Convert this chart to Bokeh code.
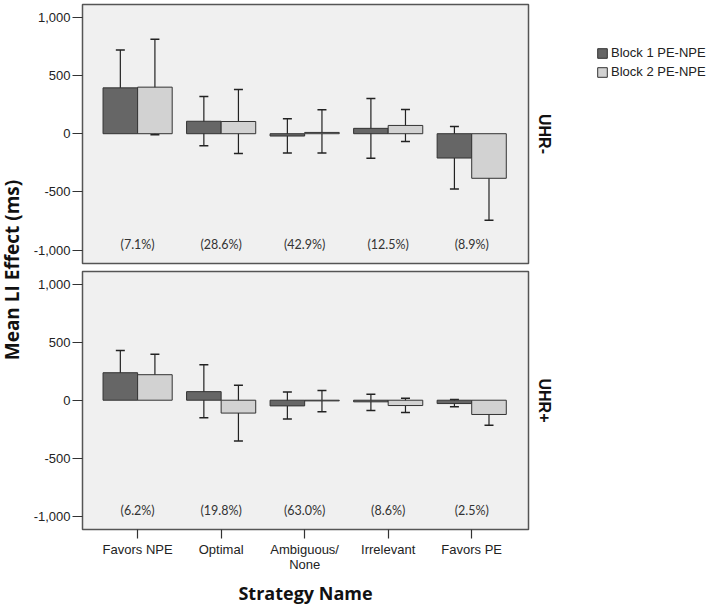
import numpy as np
from bokeh.plotting import figure
from bokeh.models import (ColumnDataSource, Range1d, FixedTicker, Whisker, TeeHead,
                          Legend, LegendItem, NumeralTickFormatter, LinearAxis, Title)
from bokeh.core.properties import value
from bokeh.layouts import row, column
from bokeh.embed import file_html
from bokeh.resources import INLINE

categories = ["Favors NPE", "Optimal", "Ambiguous/\nNone", "Irrelevant", "Favors PE"]
series = ["Block 1 PE-NPE", "Block 2 PE-NPE"]
yticks = [-1000, -500, 0, 500, 1000]

# UHR- panel
uhrm_b1 = [394, 107, -20, 46, -209]
uhrm_b1_hi = [720, 320, 129, 303, 63]
uhrm_b1_lo = [66, -103, -166, -211, -474]
uhrm_b2 = [400, 105, 11, 71, -383]
uhrm_b2_hi = [811, 380, 206, 209, -23]
uhrm_b2_lo = [-9, -171, -166, -66, -743]
uhrm_pct = ["(7.1%)", "(28.6%)", "(42.9%)", "(12.5%)", "(8.9%)"]

# UHR+ panel
uhrp_b1 = [237, 74, -49, -14, -29]
uhrp_b1_hi = [429, 306, 71, 51, 6]
uhrp_b1_lo = [49, -151, -163, -89, -57]
uhrp_b2 = [220, -111, -6, -46, -123]
uhrp_b2_hi = [397, 129, 83, 17, -17]
uhrp_b2_lo = [49, -351, -100, -106, -217]
uhrp_pct = ["(6.2%)", "(19.8%)", "(63.0%)", "(8.6%)", "(2.5%)"]

DARK = "#666666"
LIGHT = "#d2d2d2"
EDGE = "#333333"
BG = "#f0f0f0"
BW = 0.414
idx = np.arange(len(categories))


def bar_sources(b1, b1hi, b1lo, b2, b2hi, b2lo):
    s1 = ColumnDataSource(dict(x=idx - BW / 2, top=b1, hi=b1hi, lo=b1lo))
    s2 = ColumnDataSource(dict(x=idx + BW / 2, top=b2, hi=b2hi, lo=b2lo))
    return s1, s2


def make_panel(s1, s2, pct, label, top, show_x):
    p = figure(frame_width=446, frame_height=259 if top else 258,
               x_range=Range1d(-0.66, 4.68), y_range=Range1d(-1115, 1110),
               output_backend="svg", toolbar_location=None,
               min_border_left=54, min_border_right=68,
               min_border_top=4, min_border_bottom=4 if top else 0)
    p.background_fill_color = BG
    p.border_fill_color = "white"
    p.outline_line_color = "#555555"
    p.outline_line_width = 1.5
    p.grid.visible = False
    p.vbar(x="x", top="top", bottom=0, width=BW, source=s1,
           fill_color=DARK, line_color=EDGE, line_width=1)
    p.vbar(x="x", top="top", bottom=0, width=BW, source=s2,
           fill_color=LIGHT, line_color=EDGE, line_width=1)
    for s in (s1, s2):
        w = Whisker(base="x", upper="hi", lower="lo", source=s,
                    line_color="#222222", line_width=1.2,
                    upper_head=TeeHead(size=9, line_color="#222222", line_width=1.5),
                    lower_head=TeeHead(size=9, line_color="#222222", line_width=1.5))
        p.add_layout(w)
    ps = ColumnDataSource(dict(x=idx, y=[-955] * len(idx), t=pct))
    p.text(x="x", y="y", text="t", source=ps, text_align="center",
           text_baseline="middle", text_font_size="12.5px", text_font=value("Lato"),
           text_color="#333333")

    # right-side label (UHR- / UHR+)
    ax = LinearAxis(ticker=FixedTicker(ticks=[]), axis_label=label)
    ax.axis_line_color = None
    ax.major_tick_out = 0
    ax.major_tick_in = 0
    ax.minor_tick_out = 0
    ax.minor_tick_in = 0
    ax.major_label_standoff = 0
    ax.major_label_text_font_size = "1px"
    ax.axis_label_standoff = 7
    ax.axis_label_text_font = "Liberation Sans"
    ax.axis_label_text_font_style = "bold"
    ax.axis_label_text_font_size = "16px"
    ax.axis_label_text_color = "#111111"
    p.add_layout(ax, "right")

    p.yaxis[0].ticker = FixedTicker(ticks=yticks)
    yax = p.left[0]
    yax.formatter = NumeralTickFormatter(format="0,0")
    yax.major_label_text_font = "Liberation Sans"
    yax.major_label_text_font_size = "13px"
    yax.major_label_text_color = "#222222"
    yax.major_tick_out = 10
    yax.major_tick_in = 0
    yax.minor_tick_out = 0
    yax.minor_tick_in = 0
    yax.major_label_standoff = 2
    yax.axis_line_color = None
    yax.major_tick_line_color = "#333333"
    yax.major_tick_line_width = 1.2
    if show_x:
        xa = p.below[0]
        xa.ticker = FixedTicker(ticks=list(idx))
        xa.major_label_overrides = {int(i): c for i, c in zip(idx, categories)}
        xa.major_label_text_font = "Liberation Sans"
        xa.major_label_text_font_size = "13px"
        xa.major_label_text_color = "#222222"
        xa.major_label_text_line_height = 1.0
        xa.major_tick_out = 9
        xa.major_tick_in = 0
        xa.minor_tick_out = 0
        xa.minor_tick_in = 0
        xa.major_label_standoff = 3
        xa.axis_line_color = None
        xa.major_tick_line_color = "#333333"
        xa.major_tick_line_width = 1.2
        xa.axis_label = "Strategy Name"
        xa.axis_label_text_font = "Open Sans"
        xa.axis_label_text_font_style = "bold"
        xa.axis_label_text_font_size = "18px"
        xa.axis_label_text_color = "#111111"
        xa.axis_label_standoff = 6
    else:
        p.xaxis.visible = False
    return p


sm1, sm2 = bar_sources(uhrm_b1, uhrm_b1_hi, uhrm_b1_lo, uhrm_b2, uhrm_b2_hi, uhrm_b2_lo)
sp1, sp2 = bar_sources(uhrp_b1, uhrp_b1_hi, uhrp_b1_lo, uhrp_b2, uhrp_b2_hi, uhrp_b2_lo)
top = make_panel(sm1, sm2, uhrm_pct, "UHR-", True, False)
bot = make_panel(sp1, sp2, uhrp_pct, "UHR+", False, True)

# y-axis title spanning both panels
ylab = figure(width=28, height=494, x_range=Range1d(0, 1), y_range=Range1d(0, 1),
              output_backend="svg", toolbar_location=None, min_border=0)
ylab.axis.visible = False
ylab.grid.visible = False
ylab.outline_line_color = None
ylab.add_layout(Title(text="Mean LI Effect (ms)", align="center", standoff=0,
                      offset=0, vertical_align="top", padding=2,
                      text_font="Open Sans", text_font_style="bold",
                      text_font_size="19px", text_color="#111111"), "left")

# legend panel (its bar renderers sit outside its visible range; only the key shows)
lg = figure(width=115, height=90, x_range=Range1d(-0.66, 4.68),
            y_range=Range1d(5000, 6000),
            output_backend="svg", toolbar_location=None, min_border=0,
            min_border_top=45)
lg.axis.visible = False
lg.grid.visible = False
lg.outline_line_color = None
lg.background_fill_alpha = 0
g1 = lg.vbar(x="x", top="top", bottom=0, width=BW, source=sm1,
             fill_color=DARK, line_color=EDGE, line_width=1)
g2 = lg.vbar(x="x", top="top", bottom=0, width=BW, source=sm2,
             fill_color=LIGHT, line_color=EDGE, line_width=1)
leg = Legend(items=[LegendItem(label=series[0], renderers=[g1]),
                    LegendItem(label=series[1], renderers=[g2])],
             location="top_left", orientation="vertical",
             background_fill_alpha=0, border_line_color=None,
             padding=0, margin=0, spacing=4,
             glyph_width=12, glyph_height=12, label_standoff=3,
             label_text_font="Liberation Sans", label_text_font_size="13px",
             label_text_color="#222222", label_height=12)
lg.add_layout(leg, "center")

layout = row(ylab, column(top, bot, spacing=0), lg, spacing=0)
open("out.html", "w").write(file_html(layout, INLINE))
